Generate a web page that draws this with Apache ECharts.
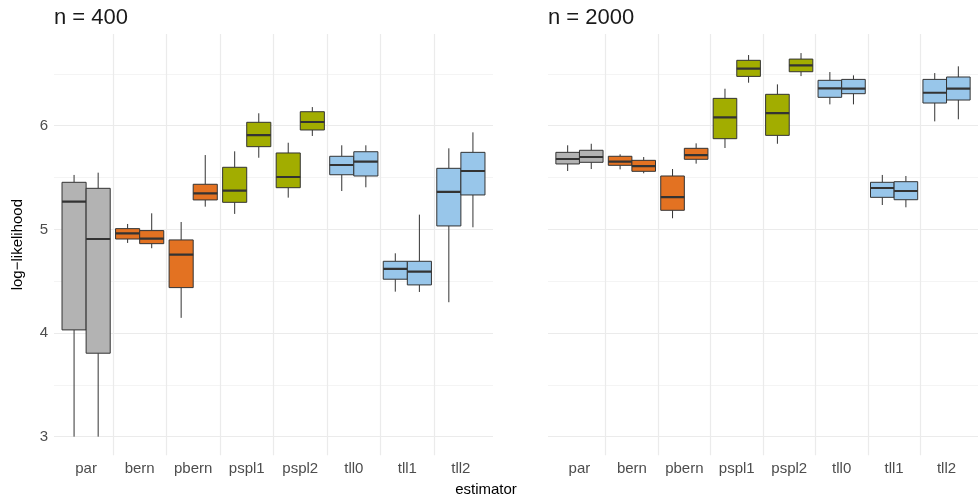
<!DOCTYPE html>
<html>
<head>
<meta charset="utf-8">
<script src="https://cdn.jsdelivr.net/npm/echarts@6/dist/echarts.min.js"></script>
<style>html,body{margin:0;padding:0;background:#fff;}#c{width:978px;height:502px;}</style>
</head>
<body>
<div id="c"></div>
<script>
// ---- data ----
const categories = ['par', 'bern', 'pbern', 'pspl1', 'pspl2', 'tll0', 'tll1', 'tll2'];
const facets = ['n = 400', 'n = 2000'];
const yTicks = [3, 4, 5, 6];
const yMinorTicks = [3.5, 4.5, 5.5, 6.5];
// [low whisker, Q1, median, Q3, high whisker], one entry per category
const n400_first = [
  [3.0, 4.03, 5.267, 5.454, 5.525],
  [4.869, 4.907, 4.962, 5.007, 5.052],
  [4.146, 4.438, 4.756, 4.898, 5.071],
  [5.149, 5.261, 5.373, 5.599, 5.753],
  [5.306, 5.402, 5.505, 5.737, 5.836],
  [5.370, 5.527, 5.621, 5.705, 5.811],
  [4.399, 4.519, 4.618, 4.692, 4.769],
  [4.297, 5.033, 5.361, 5.589, 5.782]
];
const n400_second = [
  [3.0, 3.805, 4.907, 5.396, 5.547],
  [4.818, 4.862, 4.910, 4.988, 5.155],
  [5.219, 5.284, 5.348, 5.435, 5.717],
  [5.691, 5.798, 5.910, 6.033, 6.120],
  [5.901, 5.959, 6.036, 6.135, 6.180],
  [5.406, 5.515, 5.653, 5.749, 5.811],
  [4.396, 4.464, 4.592, 4.692, 5.142],
  [5.020, 5.332, 5.563, 5.743, 5.936]
];
const n2000_first = [
  [5.563, 5.631, 5.679, 5.743, 5.811],
  [5.579, 5.618, 5.653, 5.705, 5.724],
  [5.107, 5.184, 5.312, 5.515, 5.582],
  [5.785, 5.875, 6.081, 6.264, 6.357],
  [5.826, 5.907, 6.122, 6.303, 6.399],
  [6.206, 6.274, 6.361, 6.438, 6.518],
  [5.235, 5.309, 5.399, 5.454, 5.525],
  [6.042, 6.219, 6.318, 6.447, 6.508]
];
const n2000_second = [
  [5.582, 5.647, 5.698, 5.763, 5.826],
  [5.541, 5.560, 5.611, 5.666, 5.698],
  [5.634, 5.676, 5.717, 5.782, 5.830],
  [6.415, 6.476, 6.550, 6.631, 6.682],
  [6.479, 6.521, 6.582, 6.643, 6.701],
  [6.206, 6.309, 6.357, 6.447, 6.486],
  [5.213, 5.286, 5.370, 5.460, 5.515],
  [6.062, 6.248, 6.357, 6.470, 6.573]
];

// ---- styles ----
const familyColor = { par: '#B3B3B3', bern: '#E37222', pbern: '#E37222', pspl1: '#A2AD00', pspl2: '#A2AD00', tll0: '#98C6EA', tll1: '#98C6EA', tll2: '#98C6EA' };
const FONT = 'Liberation Sans, Arial, sans-serif';
const DODGE = 0.225, BOXW = 0.45;
const Y_MIN = 2.82, Y_MAX = 6.885;
const gridCol = '#EBEBEB';
const minorCol = '#F4F4F4';
const boundaries = categories.slice(1).map((c, i) => i + 1.5);

function toData(arr, offset) {
  return arr.map((v, i) => ({ value: [i + 1 + offset].concat(v), itemStyle: { color: familyColor[categories[i]] } }));
}

function renderBox(params, api) {
  const x = api.value(0);
  const lo = api.value(1), q1 = api.value(2), med = api.value(3), q3 = api.value(4), hi = api.value(5);
  const half = api.size([BOXW, 0])[0] / 2;
  const pLo = api.coord([x, lo]), pQ1 = api.coord([x, q1]), pMed = api.coord([x, med]), pQ3 = api.coord([x, q3]), pHi = api.coord([x, hi]);
  const color = api.visual('color');
  const stroke = '#333333';
  return {
    type: 'group',
    children: [
      { type: 'line', shape: { x1: pLo[0], y1: pLo[1], x2: pQ1[0], y2: pQ1[1] }, style: { stroke: stroke, lineWidth: 1 } },
      { type: 'line', shape: { x1: pQ3[0], y1: pQ3[1], x2: pHi[0], y2: pHi[1] }, style: { stroke: stroke, lineWidth: 1 } },
      { type: 'rect', shape: { x: pQ1[0] - half, y: pQ3[1], width: half * 2, height: pQ1[1] - pQ3[1] }, style: { fill: color, stroke: stroke, lineWidth: 1 } },
      { type: 'line', shape: { x1: pMed[0] - half, y1: pMed[1], x2: pMed[0] + half, y2: pMed[1] }, style: { stroke: stroke, lineWidth: 2.2 } }
    ]
  };
}

function boxSeries(arr, offset, gi) {
  return { type: 'custom', xAxisIndex: gi, yAxisIndex: gi, renderItem: renderBox, data: toData(arr, offset), clip: true, silent: true, z: 3 };
}

const gridW = 439;
const grids = [
  { left: 54, top: 34, width: gridW, height: 421.3 },
  { left: 548, top: 34, width: gridW, height: 421.3 }
];

const xAxes = grids.map((g, gi) => ({
  type: 'value', gridIndex: gi, min: 0.4, max: 8.6,
  axisLine: { show: false },
  axisTick: { show: false, customValues: boundaries },
  splitLine: { show: true, lineStyle: { color: gridCol, width: 1.2 } },
  axisLabel: { show: true, customValues: categories.map((c, i) => i + 1), formatter: v => categories[Math.round(v) - 1] || '',
    color: '#4D4D4D', fontSize: 15, fontFamily: FONT, margin: 6 }
}));

const yAxes = grids.map((g, gi) => ({
  type: 'value', gridIndex: gi, min: Y_MIN, max: Y_MAX,
  axisLine: { show: false },
  axisTick: { show: false, customValues: yTicks },
  splitLine: { show: true, lineStyle: { color: gridCol, width: 1.2 } },
  axisLabel: { show: gi === 0, customValues: yTicks, color: '#4D4D4D', fontSize: 15, fontFamily: FONT, margin: 6 },
  name: gi === 0 ? 'log\u2212likelihood' : '',
  nameLocation: 'middle', nameGap: 29, nameRotate: 90,
  nameTextStyle: { color: '#000', fontSize: 15, fontFamily: FONT }
}));
// hidden companion axes that only carry the minor horizontal grid lines
grids.forEach((g, gi) => yAxes.push({
  type: 'value', gridIndex: gi, min: Y_MIN, max: Y_MAX, position: 'left',
  axisLine: { show: false },
  axisTick: { show: false, customValues: yMinorTicks },
  axisLabel: { show: false, customValues: yMinorTicks },
  splitLine: { show: true, lineStyle: { color: minorCol, width: 1 } }
}));

const option = {
  animation: false,
  backgroundColor: '#fff',
  title: facets.map((t, gi) => ({ text: t, left: grids[gi].left - 5, top: 2,
    textStyle: { fontSize: 22, fontWeight: 'normal', color: '#1A1A1A', fontFamily: FONT } })),
  grid: grids,
  xAxis: xAxes,
  yAxis: yAxes,
  graphic: [{ type: 'text', x: 486, y: 490, style: { text: 'estimator', fill: '#000', font: '15px ' + FONT, textAlign: 'center', textVerticalAlign: 'middle' } }],
  series: [
    boxSeries(n400_first, -DODGE, 0), boxSeries(n400_second, DODGE, 0),
    boxSeries(n2000_first, -DODGE, 1), boxSeries(n2000_second, DODGE, 1)
  ]
};

const chart = echarts.init(document.getElementById('c'), null, { renderer: 'canvas' });
chart.setOption(option);
</script>
</body>
</html>
